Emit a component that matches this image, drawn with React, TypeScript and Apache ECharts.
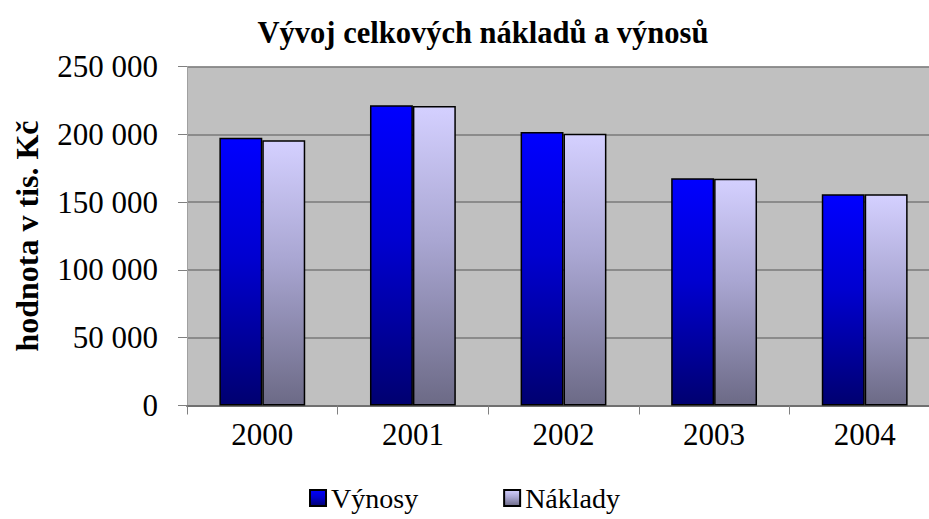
import React, { useEffect, useRef } from "react";
import * as echarts from "echarts";

const years = ["2000", "2001", "2002", "2003", "2004"];
const vynosy = [197500, 221400, 201700, 167500, 155800];
const naklady = [195600, 220900, 200400, 167300, 155700];
const seriesNames = ["Výnosy", "Náklady"];
const titleText = "Vývoj celkových nákladů a výnosů";
const yAxisName = "hodnota v tis. Kč";

const FONT = "Liberation Serif";

function fmt(v: number): string {
  const s = String(v);
  return s.replace(/\B(?=(\d{3})+(?!\d))/g, " ");
}

export default function App() {
  const ref = useRef<HTMLDivElement>(null);
  useEffect(() => {
    if (!ref.current) return;
    const chart = echarts.init(ref.current, null, { renderer: "svg" });
    const blueGrad = new echarts.graphic.LinearGradient(0, 0, 0, 1, [
      { offset: 0, color: "#0000ff" },
      { offset: 0.45, color: "#0000d0" },
      { offset: 1, color: "#000070" },
    ]);
    const lavGrad = new echarts.graphic.LinearGradient(0, 0, 0, 1, [
      { offset: 0, color: "#d4d0ff" },
      { offset: 0.45, color: "#a9a6d2" },
      { offset: 1, color: "#6c6a86" },
    ]);
    chart.setOption({
      animation: false,
      backgroundColor: "#ffffff",
      title: {
        text: titleText,
        left: 478,
        textAlign: "center",
        top: 12,
        textStyle: {
          fontFamily: FONT,
          fontWeight: "bold",
          fontSize: 30.5,
          color: "#000",
        },
      },
      legend: {
        bottom: 2,
        left: "center",
        icon: "rect",
        itemWidth: 16,
        itemHeight: 16,
        itemGap: 85,
        textStyle: { fontFamily: FONT, fontSize: 28, color: "#000" },
        data: seriesNames,
      },
      grid: {
        left: 187,
        top: 66.5,
        width: 753,
        height: 339,
        show: true,
        backgroundColor: "#c0c0c0",
        borderWidth: 0,
        containLabel: false,
        outerBoundsMode: "none",
      },
      xAxis: {
        type: "category",
        data: years,
        axisLine: { lineStyle: { color: "#707070", width: 2 } },
        axisTick: { show: true, length: 9, lineStyle: { color: "#808080" } },
        axisLabel: {
          fontFamily: FONT,
          fontSize: 31,
          color: "#000",
          margin: 13,
        },
      },
      yAxis: {
        type: "value",
        min: 0,
        max: 250000,
        interval: 50000,
        name: yAxisName,
        nameLocation: "middle",
        nameRotate: 90,
        nameGap: 144,
        nameTextStyle: {
          fontFamily: FONT,
          fontWeight: "bold",
          fontSize: 32,
          color: "#000",
        },
        axisLine: { show: true, lineStyle: { color: "#a0a0a0", width: 1 } },
        axisTick: { show: true, length: 9, lineStyle: { color: "#808080" } },
        splitLine: { lineStyle: { color: "#7a7a7a", width: 1.5 } },
        axisLabel: {
          fontFamily: FONT,
          fontSize: 31,
          color: "#000",
          margin: 29,
          formatter: (v: number) => fmt(v),
        },
      },
      series: [
        {
          name: seriesNames[0],
          type: "bar",
          data: vynosy,
          barGap: "0%",
          barCategoryGap: "43%",
          itemStyle: { color: blueGrad, borderColor: "#000", borderWidth: 1.5 },
        },
        {
          name: seriesNames[1],
          type: "bar",
          data: naklady,
          barGap: "0%",
          barCategoryGap: "43%",
          itemStyle: { color: lavGrad, borderColor: "#000", borderWidth: 1.5 },
        },
      ],
    });
    return () => chart.dispose();
  }, []);
  return (
    <div
      ref={ref}
      style={{ position: "fixed", left: 0, top: 0, width: 929, height: 519 }}
    />
  );
}
